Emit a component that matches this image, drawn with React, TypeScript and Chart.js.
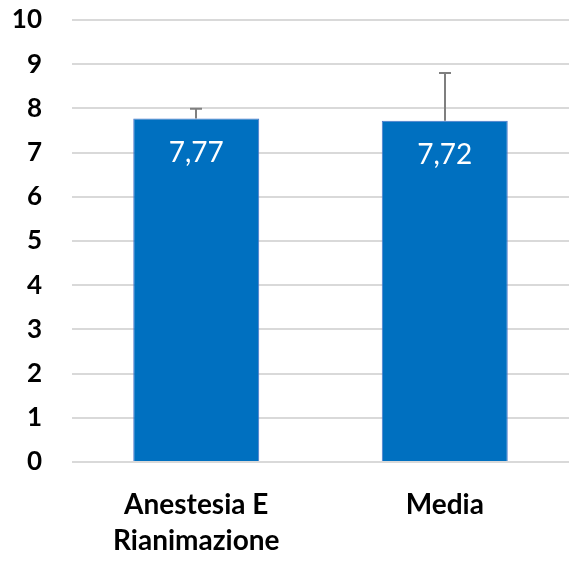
import React, { useEffect, useRef } from "react";
import { Chart, registerables } from "chart.js";

Chart.register(...registerables);

const categories: string[][] = [["Anestesia E", "Rianimazione"], ["Media"]];
const values: number[] = [7.77, 7.72];
const errorUpper: number[] = [7.99, 8.8];
const yTicks: number[] = [0, 1, 2, 3, 4, 5, 6, 7, 8, 9, 10];

const FONT = "Lato, 'Open Sans', sans-serif";

const errorBarPlugin = {
  id: "errorBars",
  afterDatasetsDraw(chart: any) {
    const ctx = chart.ctx;
    const meta = chart.getDatasetMeta(0);
    const yScale = chart.scales.y;
    ctx.save();
    ctx.strokeStyle = "#7f7f7f";
    ctx.lineWidth = 2;
    meta.data.forEach((bar: any, i: number) => {
      const x = Math.round(bar.x);
      const yTop = yScale.getPixelForValue(errorUpper[i]);
      const yBase = bar.y;
      ctx.beginPath();
      ctx.moveTo(x, yBase);
      ctx.lineTo(x, yTop);
      ctx.moveTo(x - 6, yTop);
      ctx.lineTo(x + 6, yTop);
      ctx.stroke();
    });
    // value labels
    ctx.fillStyle = "#ffffff";
    ctx.font = `28px ${FONT}`;
    ctx.textAlign = "center";
    ctx.textBaseline = "middle";
    meta.data.forEach((bar: any, i: number) => {
      const txt = values[i].toFixed(2).replace(".", ",");
      ctx.fillText(txt, bar.x, bar.y + 34);
    });
    ctx.restore();
  },
};

export default function App() {
  const ref = useRef<HTMLCanvasElement>(null);
  useEffect(() => {
    if (!ref.current) return;
    const chart = new Chart(ref.current, {
      type: "bar",
      data: {
        labels: categories,
        datasets: [
          {
            data: values,
            backgroundColor: "#0070C0",
            borderColor: "#4a74c9",
            borderWidth: 1,
            barPercentage: 0.507,
            categoryPercentage: 1,
          },
        ],
      },
      options: {
        animation: false,
        responsive: false,
        layout: { padding: { top: 20, right: 8, bottom: 0, left: 0 } },
        plugins: { legend: { display: false }, tooltip: { enabled: false } },
        scales: {
          x: {
            grid: { display: false, drawTicks: false },
            border: { display: false },
            ticks: {
              color: "#000000",
              font: { family: FONT, size: 28, weight: "bold", lineHeight: 1.32 },
              padding: 24,
              maxRotation: 0,
              autoSkip: false,
            },
            afterFit: (s: any) => {
              s.height = 101;
              s.paddingLeft = 0;
              s.paddingRight = 0;
            },
          },
          y: {
            min: 0,
            max: 10,
            afterBuildTicks: (s: any) => {
              s.ticks = yTicks.map((v) => ({ value: v }));
            },
            grid: { color: "#d9d9d9", lineWidth: 2, drawTicks: false },
            border: { display: false },
            ticks: {
              color: "#000000",
              font: { family: FONT, size: 26, weight: "bold" },
              padding: 30,
            },
            afterFit: (s: any) => {
              s.width = 72;
              s.paddingTop = 0;
              s.paddingBottom = 0;
            },
          },
        },
      },
      plugins: [errorBarPlugin],
    });
    return () => chart.destroy();
  }, []);
  return (
    <div style={{ position: "fixed", left: 0, top: 0, width: 577, height: 563, background: "#fff" }}>
      <canvas ref={ref} width={577} height={563} />
    </div>
  );
}
